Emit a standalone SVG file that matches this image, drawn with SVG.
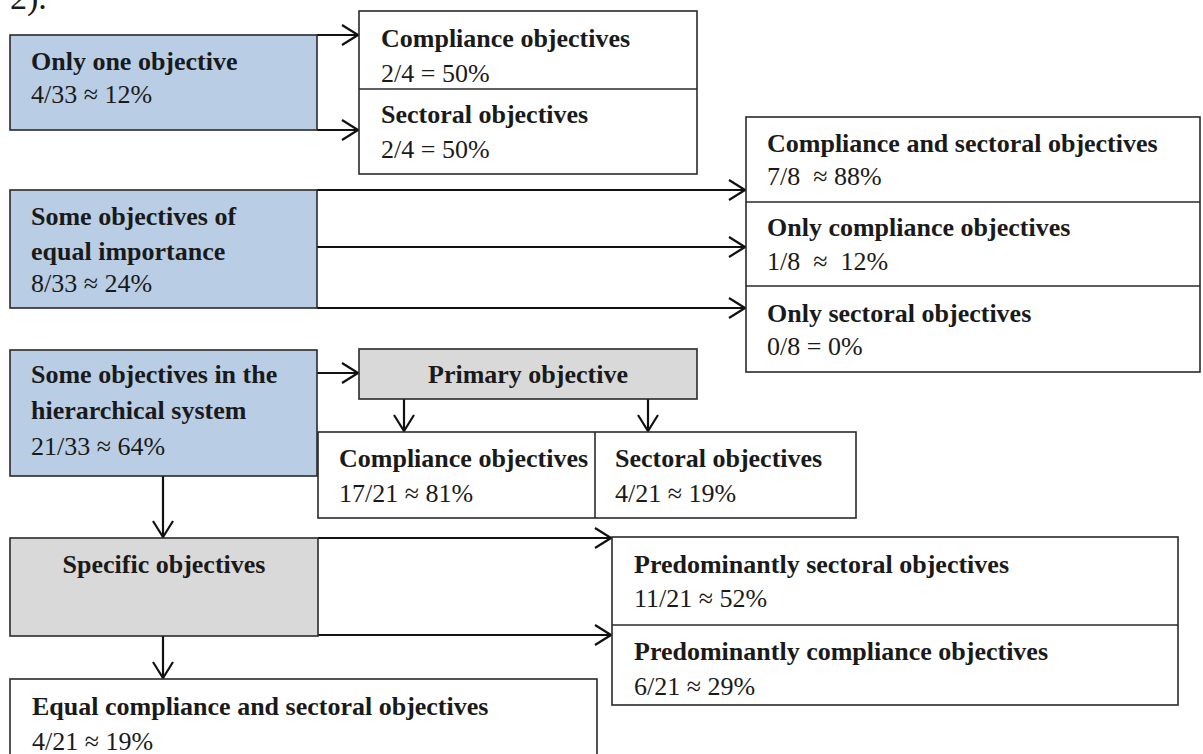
<svg xmlns="http://www.w3.org/2000/svg" width="1203" height="754" viewBox="0 0 1203 754">
<defs>
<style>
text{font-family:"Liberation Serif","Times New Roman",serif;font-size:26px;fill:#1a1a1a;white-space:pre}
.b{font-weight:bold}
.blue{fill:#b9cde5;stroke:#2a2a2a;stroke-width:1.6}
.gray{fill:#d9d9d9;stroke:#2a2a2a;stroke-width:1.6}
.white{fill:#ffffff;stroke:#2a2a2a;stroke-width:1.6}
.div{stroke:#2a2a2a;stroke-width:1.6;fill:none}
.c{stroke:#111;stroke-width:2.2;fill:none;marker-end:url(#ah)}
</style>
<marker id="ah" viewBox="0 0 18 22" refX="17" refY="11" markerWidth="18" markerHeight="22" markerUnits="userSpaceOnUse" orient="auto">
<path d="M1,1 L17,11 L1,21" fill="none" stroke="#111" stroke-width="2.2"/>
</marker>
</defs>
<rect width="1203" height="754" fill="#ffffff"/>
<text x="10" y="9" style="font-size:34px">2).</text>

<g id="connectors">
<path class="c" d="M317,35 H358"/>
<path class="c" d="M317,130 H358"/>
<path class="c" d="M317,190 H745"/>
<path class="c" d="M317,247 H745"/>
<path class="c" d="M317,308 H745"/>
<path class="c" d="M317,373 H358"/>
<path class="c" d="M404,399 V431"/>
<path class="c" d="M648,399 V431"/>
<path class="c" d="M163,476 V537"/>
<path class="c" d="M163,636 V678"/>
<path class="c" d="M318,538 H611"/>
<path class="c" d="M318,635 H611"/>
</g>

<g id="only-one">
<rect class="blue" x="10" y="35" width="307" height="95"/>
<text class="b" x="31" y="70">Only one objective</text>
<text x="31" y="103">4/33 ≈ 12%</text>
</g>

<g id="only-one-results">
<rect class="white" x="359" y="11" width="338" height="163"/>
<line class="div" x1="359" y1="89" x2="697" y2="89"/>
<text class="b" x="381" y="47">Compliance objectives</text>
<text x="381" y="82">2/4 = 50%</text>
<text class="b" x="381" y="123">Sectoral objectives</text>
<text x="381" y="158">2/4 = 50%</text>
</g>

<g id="equal-importance">
<rect class="blue" x="10" y="190" width="307" height="118"/>
<text class="b" x="31" y="225">Some objectives of</text>
<text class="b" x="31" y="260">equal importance</text>
<text x="31" y="292">8/33 ≈ 24%</text>
</g>

<g id="equal-importance-results">
<rect class="white" x="746" y="117" width="454" height="255"/>
<line class="div" x1="746" y1="202" x2="1200" y2="202"/>
<line class="div" x1="746" y1="286" x2="1200" y2="286"/>
<text class="b" x="767" y="152">Compliance and sectoral objectives</text>
<text x="767" y="185">7/8  ≈ 88%</text>
<text class="b" x="767" y="236">Only compliance objectives</text>
<text x="767" y="270">1/8  ≈  12%</text>
<text class="b" x="767" y="322">Only sectoral objectives</text>
<text x="767" y="355">0/8 = 0%</text>
</g>

<g id="hierarchical">
<rect class="blue" x="10" y="350" width="307" height="126"/>
<text class="b" x="31" y="383">Some objectives in the</text>
<text class="b" x="31" y="419">hierarchical system</text>
<text x="31" y="455">21/33 ≈ 64%</text>
</g>

<g id="primary">
<rect class="gray" x="359" y="349" width="338" height="50"/>
<text class="b" x="528" y="383" text-anchor="middle">Primary objective</text>
</g>

<g id="primary-results">
<rect class="white" x="318" y="432" width="538" height="86"/>
<line class="div" x1="595" y1="432" x2="595" y2="518"/>
<text class="b" x="339" y="467">Compliance objectives</text>
<text x="339" y="502">17/21 ≈ 81%</text>
<text class="b" x="615" y="467">Sectoral objectives</text>
<text x="615" y="502">4/21 ≈ 19%</text>
</g>

<g id="specific">
<rect class="gray" x="10" y="538" width="308" height="98"/>
<text class="b" x="164" y="573" text-anchor="middle">Specific objectives</text>
</g>

<g id="predominantly">
<rect class="white" x="612" y="537" width="566" height="168"/>
<line class="div" x1="612" y1="625" x2="1178" y2="625"/>
<text class="b" x="634" y="573">Predominantly sectoral objectives</text>
<text x="634" y="607">11/21 ≈ 52%</text>
<text class="b" x="634" y="660">Predominantly compliance objectives</text>
<text x="634" y="695">6/21 ≈ 29%</text>
</g>

<g id="equal-mix">
<rect class="white" x="10" y="679" width="587" height="90"/>
<text class="b" x="32" y="715">Equal compliance and sectoral objectives</text>
<text x="32" y="750">4/21 ≈ 19%</text>
</g>
</svg>
